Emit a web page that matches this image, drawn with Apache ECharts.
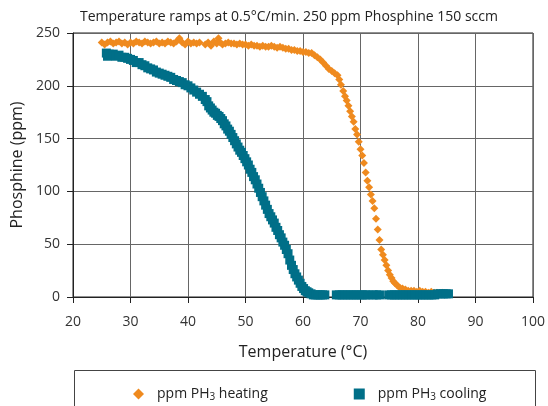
<!DOCTYPE html>
<html>
<head>
<meta charset="utf-8">
<title>Phosphine temperature ramps</title>
<script src="https://cdn.jsdelivr.net/npm/echarts@6/dist/echarts.min.js"></script>
<style>
  html, body { margin: 0; padding: 0; background: #fff; }
  #chart { width: 548px; height: 406px; }
</style>
</head>
<body>
<div id="chart"></div>
<script>
// heating ramp (temperature, ppm)
var heatT = [25.0,25.5,26,26.5,27,27.5,28,28.5,29,29.5,30,30.5,31,31.5,32,32.5,33,33.5,34,34.5,35,35.5,36,36.5,37,37.5,38,38.5,39,39.5,40,40.5,41,41.5,42,
  43,43.5,44,44.5,45,45.3,45.6,46,46.5,47,47.5,48,48.5,49,49.5,50,50.5,51,51.5,52,52.5,53,53.5,54,54.5,55,55.5,56,56.5,57,57.5,58,58.5,59,59.5,60,60.5,61,61.5,
  62,62.5,63,63.5,64,64.5,65,65.5,66,66.3,66.6,67,67.3,67.6,67.9,68.2,68.5,68.8,69.1,69.4,69.7,70,70.3,70.6,70.9,71.2,71.5,71.8,72.1,72.4,72.7,73,73.3,73.6,73.9,
  74.2,74.5,74.8,75.1,75.4,75.7,76,76.4,76.8,77.3,77.8,78.3,78.8,79.3,79.8,80.3,80.8,81.3,81.8,82.3,82.8,83.3,83.8,84.3,84.8];
var heatV = [241,239,241,242,240,241,242,240,241,239,241,240,242,241,240,242,241,240,241,242,240,241,240,242,241,240,242,245,241,239,242,240,241,240,241,
  239,241,238,242,240,245,241,239,240,241,240,240,239,240,239,239,238,239,238,238,237,238,237,237,238,237,236,237,236,235,235,234,234,233,233,232,232,231,231,
  229,227,225,222,219,216,214,212,210,206,201,195,190,186,181,176,171,166,159,154,147,140,134,127,118,110,104,97,91,84,74,64,54,45,40,
  35,30,25,21,18,15,13,11,9,8,7,6,6,6,5,6,5,5,4,5,4,4,3,4,3];

// cooling ramp (temperature, ppm)
var coolT = [25.8,26.0,26.3,26.6,27,27.5,28,28.5,29,29.5,30,30.5,31,31.5,32,32.5,33,33.5,34,34.5,35,35.5,36,36.5,37,37.5,38,38.5,39,39.5,40,40.5,41,41.5,42,42.5,43,
  43.3,43.6,43.9,44.2,44.5,44.8,45.1,45.4,45.7,46,46.3,46.6,46.9,47.2,47.5,47.8,48.1,48.4,48.7,49,49.3,49.6,49.9,50.2,50.5,50.8,51.1,51.4,51.7,52,52.3,52.6,52.9,
  53.2,53.5,53.8,54.1,54.4,54.7,55,55.3,55.6,55.9,56.2,56.5,56.8,57.1,57.4,57.7,58,58.3,58.6,58.9,59.2,59.5,59.8,60.1,60.4,60.7,61,61.4,61.8,62.2,62.6,63,63.4,63.8,
  65.8,66.3,66.8,67.3,67.8,68.3,68.8,69.3,69.8,70.3,70.8,71.3,72.2,72.8,73.3,74.9,75.4,75.9,76.4,76.9,77.4,77.9,78.4,78.9,79.4,79.9,80.4,80.9,81.4,81.9,82.4,82.9,
  83.4,83.9,84.4,84.9,85.3];
var coolV = [231,228,230,229,230,228,229,227,227,226,225,224,222,222,220,219,217,216,215,213,212,211,210,209,208,206,205,204,203,201,200,198,196,194,192,190,187,
  185,181,179,177,175,174,172,171,169,167,164,162,159,157,154,151,148,145,142,139,137,134,131,128,125,121,118,114,111,107,103,99,95,
  91,87,83,79,76,73,70,66,63,59,56,52,49,45,41,35,30,26,22,19,16,13,10,8,6,5,4,3,2,2,2,2,2,2,
  2,2,2,2,2,2,2,2,2,2,2,2,2,2,2,2,2,2,2,2,2,2,2,2,2,2,2,2,2,2,2,2,
  3,3,3,3,3];

var xTicks = [20, 100, 10];   // min, max, step
var yTicks = [0, 250, 50];

function pairs(xs, ys) {
  return xs.map(function (x, i) { return [x, ys[i]]; });
}

var font = '"Open Sans", "DejaVu Sans", sans-serif';
var txt = '#222';

var myChart = echarts.init(document.getElementById('chart'));
myChart.setOption({
  animation: false,
  textStyle: { fontFamily: font },
  title: {
    text: 'Temperature ramps at 0.5°C/min. 250 ppm Phosphine 150 sccm',
    left: 284, top: 5, textAlign: 'center',
    textStyle: { fontSize: 14, fontWeight: 'normal', color: txt, fontFamily: font }
  },
  grid: {
    left: 73, right: 12, top: 33, bottom: 109,
    show: true, borderColor: '#222', borderWidth: 1
  },
  graphic: [{
    type: 'rect',
    shape: { x: 74.5, y: 370.5, width: 461, height: 60 },
    style: { fill: 'none', stroke: '#444', lineWidth: 1 },
    z: 0
  }],
  legend: {
    left: 128, top: 382,
    itemWidth: 11, itemHeight: 11, itemGap: 86,
    data: [
      { name: 'heating', icon: 'diamond' },
      { name: 'cooling', icon: 'rect' }
    ],
    formatter: function (n) {
      return '{a|ppm PH}{s|3}{b| ' + n + '}';
    },
    textStyle: {
      color: txt, fontFamily: font,
      rich: {
        a: { fontSize: 14, color: txt, fontFamily: font, padding: [0, 0, 0, 8] },
        s: { fontSize: 10, color: txt, fontFamily: font, verticalAlign: 'bottom', padding: [6, 0, 0, 0] },
        b: { fontSize: 14, color: txt, fontFamily: font }
      }
    }
  },
  xAxis: {
    type: 'value', min: xTicks[0], max: xTicks[1], interval: xTicks[2],
    name: 'Temperature (°C)', nameLocation: 'middle', nameGap: 47,
    nameTextStyle: { fontSize: 16, color: txt, fontFamily: font },
    axisLine: { lineStyle: { color: '#222' } },
    axisTick: { show: true, length: 6, lineStyle: { color: '#222' } },
    axisLabel: { fontSize: 14, color: '#333', margin: 18, fontFamily: font },
    splitLine: { lineStyle: { color: '#666', width: 1 } }
  },
  yAxis: {
    type: 'value', min: yTicks[0], max: yTicks[1], interval: yTicks[2],
    name: 'Phosphine (ppm)', nameLocation: 'middle', nameGap: 48,
    nameTextStyle: { fontSize: 16, color: txt, fontFamily: font },
    axisLine: { show: true, lineStyle: { color: '#222' } },
    axisTick: { show: true, length: 6, lineStyle: { color: '#222' } },
    axisLabel: { fontSize: 14, color: '#333', margin: 13, fontFamily: font },
    splitLine: { lineStyle: { color: '#666', width: 1 } }
  },
  series: [
    {
      name: 'heating', type: 'scatter', symbol: 'diamond', symbolSize: 8,
      itemStyle: { color: '#EF8A1E', opacity: 1 },
      data: pairs(heatT, heatV)
    },
    {
      name: 'cooling', type: 'scatter', symbol: 'rect', symbolSize: 9,
      itemStyle: { color: '#006F88', opacity: 1 },
      data: pairs(coolT, coolV)
    }
  ]
});
</script>
</body>
</html>
